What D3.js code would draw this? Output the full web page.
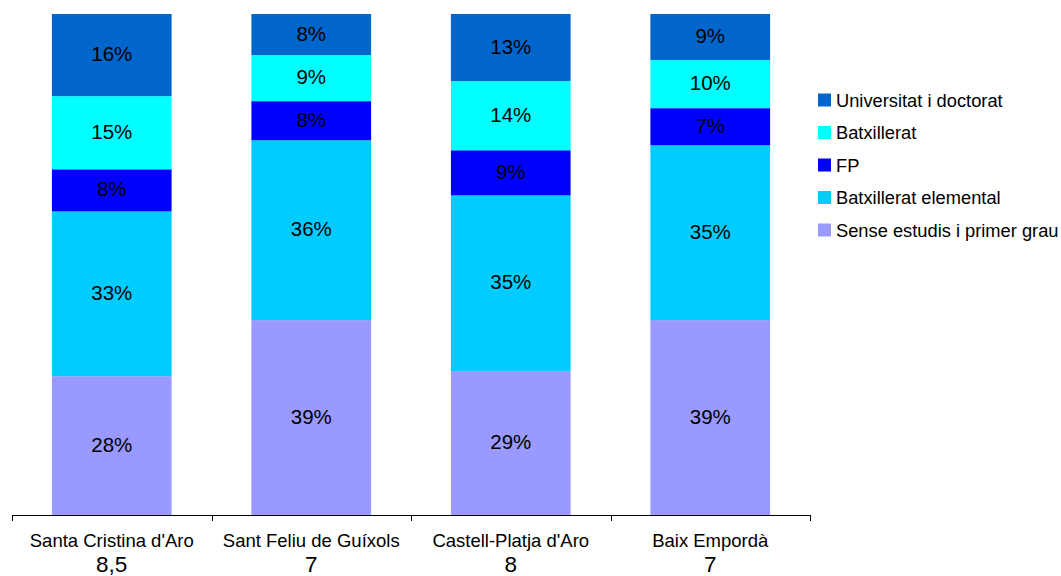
<!DOCTYPE html>
<html><head><meta charset="utf-8">
<script src="https://cdn.jsdelivr.net/npm/d3@7"></script>
<style>body{margin:0;background:#fff}svg{display:block;font-family:"Liberation Sans",Arial,sans-serif}</style>
</head><body><svg id="c" width="1061" height="576"></svg>
<script>
const categories = ["Santa Cristina d'Aro", "Sant Feliu de Guíxols", "Castell-Platja d'Aro", "Baix Empordà"];
const subLabels = ["8,5", "7", "8", "7"];
const seriesNames = ["Sense estudis i primer grau", "Batxillerat elemental", "FP", "Batxillerat", "Universitat i doctorat"];
const senseEstudis = [27.7, 38.9, 28.7, 38.9];
const batxElemental = [32.9, 35.9, 35.1, 34.9];
const fp = [8.4, 7.8, 9.0, 7.4];
const batxillerat = [14.6, 9.2, 13.8, 9.6];
const universitat = [16.4, 8.2, 13.4, 9.2];
const colors = ["#9999FF", "#00CCFF", "#0000FF", "#00FFFF", "#0066CC"];

const seriesValues = [senseEstudis, batxElemental, fp, batxillerat, universitat];
const rows = categories.map((c, i) => {
  const r = {cat: c};
  seriesNames.forEach((s, j) => r[s] = seriesValues[j][i]);
  return r;
});
const stack = d3.stack().keys(seriesNames).offset(d3.stackOffsetExpand);
const layers = stack(rows);

const svg = d3.select("#c");
const mLeft = 12, mRight = 810, mTop = 14, mBottom = 515;
const x = d3.scaleBand().domain(categories).range([mLeft, mRight]).paddingInner(0.4).paddingOuter(0.2);
const y = d3.scaleLinear().domain([0, 1]).range([mBottom, mTop]);

const g = svg.append("g");
layers.forEach((layer, j) => {
  const lg = g.append("g").attr("fill", colors[j]);
  lg.selectAll("rect").data(layer).join("rect")
    .attr("x", d => x(d.data.cat))
    .attr("width", x.bandwidth())
    .attr("y", d => y(d[1]))
    .attr("height", d => y(d[0]) - y(d[1]));
});
layers.forEach((layer, j) => {
  g.append("g").selectAll("text").data(layer).join("text")
    .attr("x", d => x(d.data.cat) + x.bandwidth() / 2)
    .attr("y", d => (y(d[0]) + y(d[1])) / 2 - 1.5)
    .attr("text-anchor", "middle")
    .attr("dominant-baseline", "central")
    .attr("font-size", 20.5)
    .attr("fill", "#000")
    .text(d => Math.round((d[1] - d[0]) * 100) + "%");
});

// axis
const step = x.step();
const ax = svg.append("g");
ax.append("line").attr("x1", mLeft).attr("x2", mRight).attr("y1", mBottom + 0.5).attr("y2", mBottom + 0.5).attr("stroke", "#000");
d3.range(categories.length + 1).forEach(i => {
  const tx = Math.round(mLeft + i * step) + 0.5;
  ax.append("line").attr("x1", tx).attr("x2", tx).attr("y1", mBottom).attr("y2", mBottom + 6).attr("stroke", "#000");
});
categories.forEach((c, i) => {
  const cx = x(c) + x.bandwidth() / 2;
  ax.append("text").attr("x", cx).attr("y", 547).attr("text-anchor", "middle").attr("font-size", 18.5).text(c);
  ax.append("text").attr("x", cx).attr("y", 572).attr("text-anchor", "middle").attr("font-size", 22.5).text(subLabels[i]);
});

// legend
const legendOrder = seriesNames.map((s, j) => ({s, c: colors[j]})).reverse();
const lgd = svg.append("g");
legendOrder.forEach((d, i) => {
  const cy = 100 + i * 32.5;
  lgd.append("rect").attr("x", 818).attr("y", cy - 6.5).attr("width", 13).attr("height", 13).attr("fill", d.c);
  lgd.append("text").attr("x", 836).attr("y", cy).attr("dominant-baseline", "central").attr("font-size", 18.3).text(d.s);
});
</script></body></html>
